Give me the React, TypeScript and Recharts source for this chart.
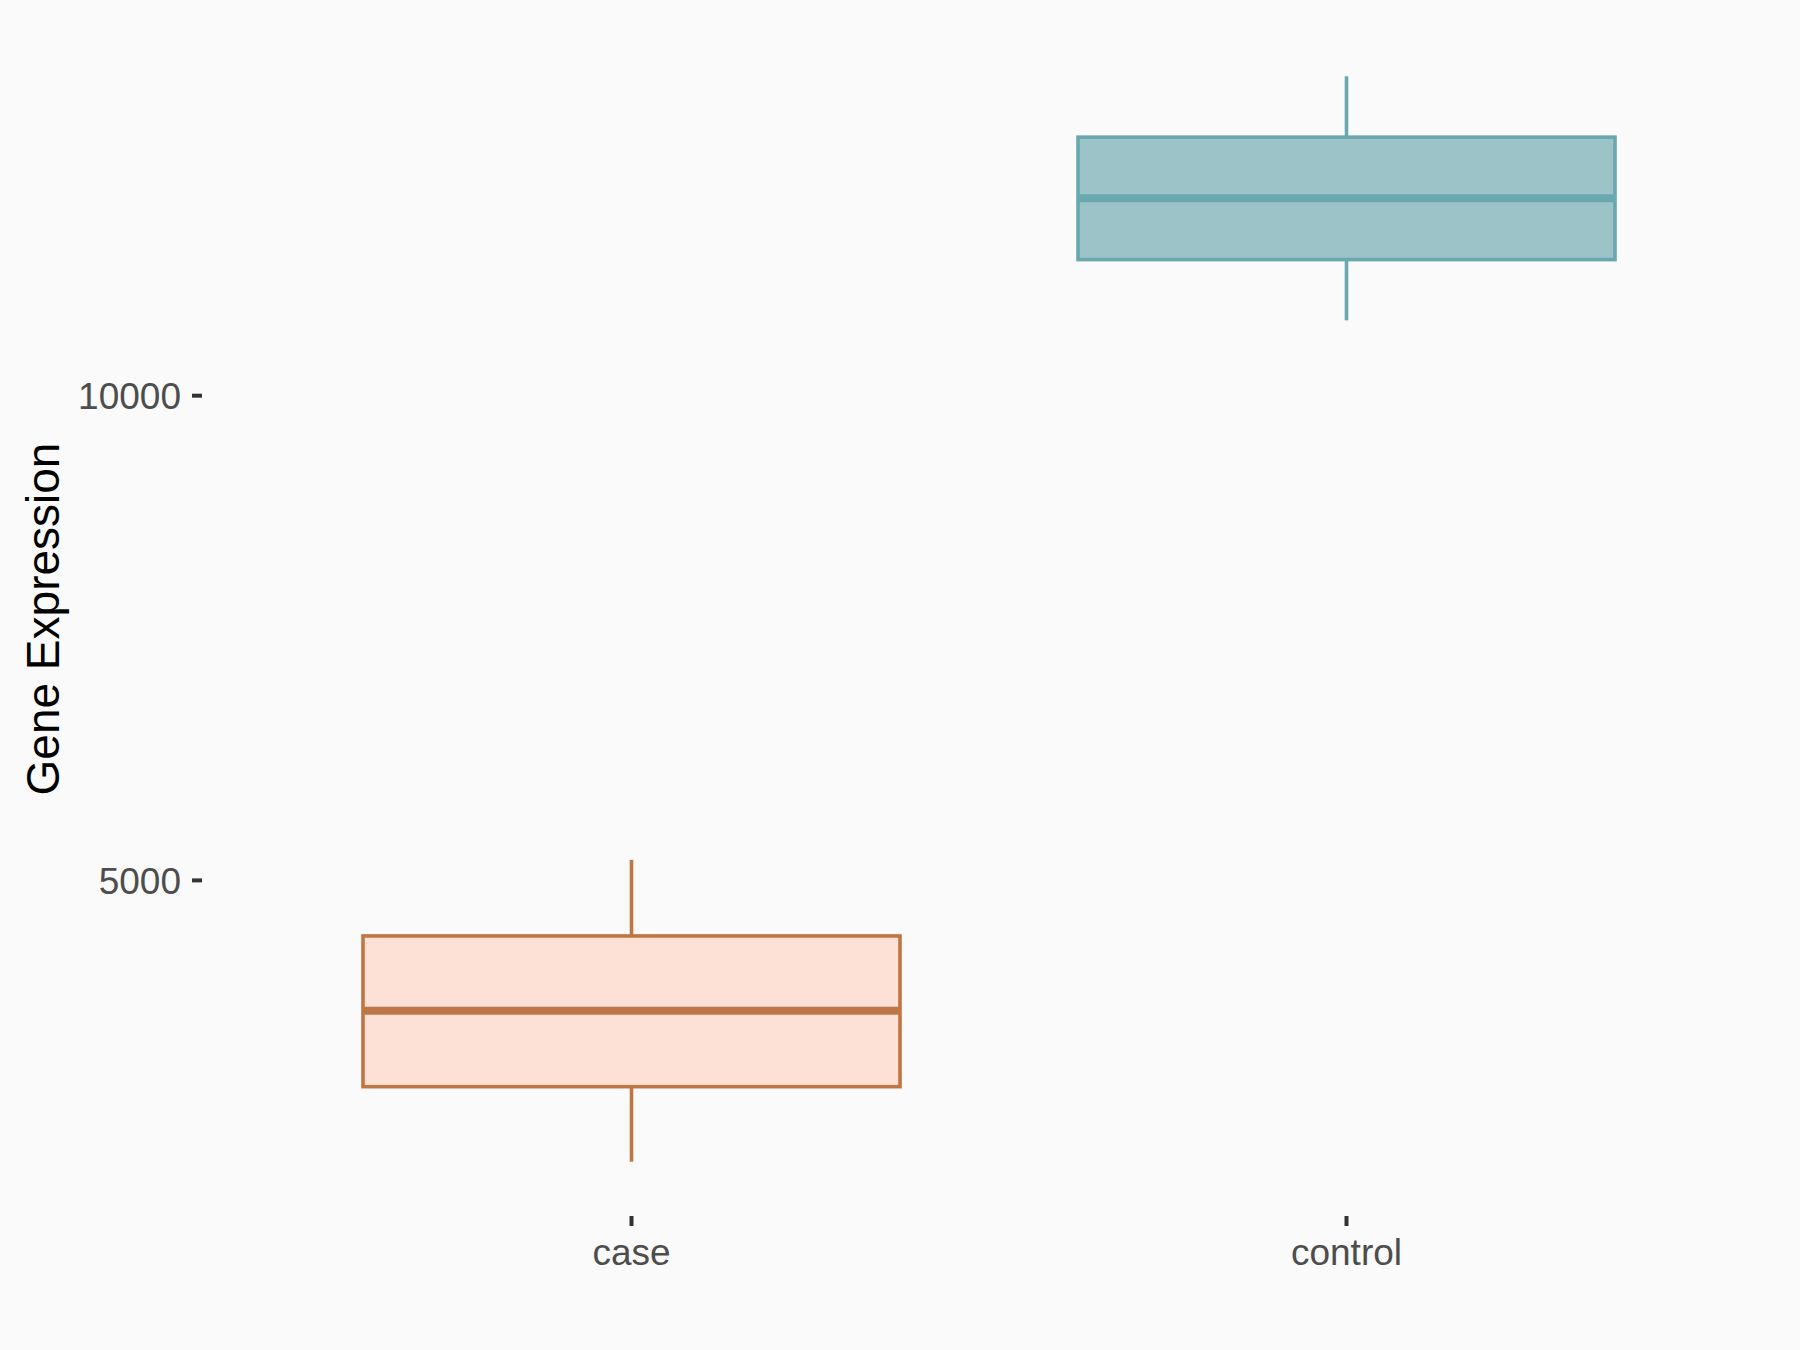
import React from 'react';
import { ComposedChart, Bar, XAxis, YAxis, Label } from 'recharts';

// box plot stats per group
const categories = ['case', 'control'];
const mins = [2098, 10777];
const q1s = [2872, 11404];
const medians = [3656, 12036];
const q3s = [4427, 12667];
const maxs = [5212, 13295];
const yTicks = [5000, 10000];

const STROKES = ['#BE7644', '#6AA8AF'];
const FILLS = ['#FEE1D6', '#9CC4C8'];
const BG = '#FAFAFA';

const data = categories.map((name, i) => ({
  name,
  range: [mins[i], maxs[i]],
  min: mins[i],
  q1: q1s[i],
  median: medians[i],
  q3: q3s[i],
  max: maxs[i],
}));

// draws whiskers + box + median inside the [min, max] bar
const BoxShape = (props: any) => {
  const { x, y, width, height, payload, index } = props;
  const top = Math.min(y, y + height);
  const h = Math.abs(height);
  const span = payload.max - payload.min;
  const py = (v: number) => top + ((payload.max - v) / span) * h;
  const cx = x + width / 2;
  const stroke = STROKES[index % STROKES.length];
  const fill = FILLS[index % FILLS.length];
  return (
    <g>
      <line x1={cx} x2={cx} y1={py(payload.max)} y2={py(payload.q3)} stroke={stroke} strokeWidth={3.6} />
      <line x1={cx} x2={cx} y1={py(payload.q1)} y2={py(payload.min)} stroke={stroke} strokeWidth={3.6} />
      <rect
        x={x}
        y={py(payload.q3)}
        width={width}
        height={py(payload.q1) - py(payload.q3)}
        fill={fill}
        stroke={stroke}
        strokeWidth={3.6}
      />
      <line x1={x} x2={x + width} y1={py(payload.median)} y2={py(payload.median)} stroke={stroke} strokeWidth={8} />
    </g>
  );
};

export default function App() {
  return (
    <div style={{ width: 1800, height: 1350, background: BG }}>
      <style>{`body{margin:0;background:${BG};}`}</style>
      <ComposedChart
        width={1800}
        height={1350}
        data={data}
        margin={{ top: 22, right: 24, bottom: 0, left: 0 }}
        style={{ background: BG }}
      >
        <XAxis
          dataKey="name"
          type="category"
          padding={{ left: 72, right: 72 }}
          axisLine={false}
          tickLine={{ stroke: '#333333', strokeWidth: 4 }}
          tickSize={10}
          tickMargin={13}
          tick={{ fill: '#4D4D4D', fontSize: 37, fontFamily: 'Liberation Sans, Arial, sans-serif' }}
          height={134}
        />
        <YAxis
          type="number"
          domain={[1538, 13855]}
          ticks={yTicks}
          allowDataOverflow
          width={202}
          axisLine={false}
          tickLine={{ stroke: '#333333', strokeWidth: 4 }}
          tickSize={10}
          tickMargin={11}
          tick={{ fill: '#4D4D4D', fontSize: 37, fontFamily: 'Liberation Sans, Arial, sans-serif' }}
        >
          <Label
            content={(p: any) => {
              const vb = p.viewBox || { x: 0, y: 22, height: 1194 };
              const lx = vb.x + 43;
              const ly = vb.y + vb.height / 2;
              return (
                <text
                  x={lx}
                  y={ly}
                  transform={`rotate(-90, ${lx}, ${ly})`}
                  textAnchor="middle"
                  dominantBaseline="central"
                  fill="#000000"
                  fontSize={46}
                  fontFamily="Liberation Sans, Arial, sans-serif"
                >
                  Gene Expression
                </text>
              );
            }}
          />
        </YAxis>
        <Bar dataKey="range" barSize={537} shape={<BoxShape />} isAnimationActive={false} />
      </ComposedChart>
    </div>
  );
}
